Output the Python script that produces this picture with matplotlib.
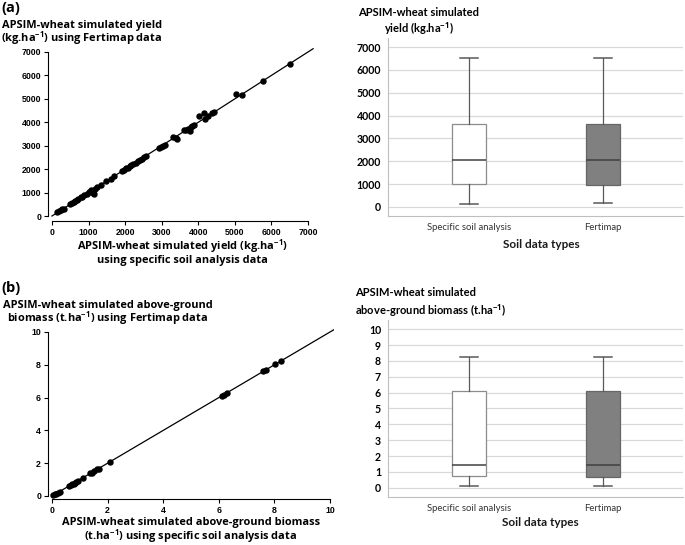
import matplotlib
matplotlib.use("Agg")
import matplotlib.pyplot as plt

W, H = 685, 545

# ---- data ---------------------------------------------------------------
# (a) yield, kg/ha : specific soil analysis (x) vs Fertimap (y)
yield_specific = [130, 200, 250, 280, 320, 500, 550, 600, 640, 680, 720, 780,
                  830, 880, 950, 1020, 1080, 1120, 1150, 1180, 1230, 1330,
                  1480, 1600, 1700, 1920, 1960, 2020, 2080, 2130, 2160, 2220,
                  2300, 2360, 2420, 2460, 2520, 2570, 2920, 2980, 3030, 3080,
                  3310, 3380, 3420, 3600, 3660, 3720, 3780, 3800, 3840, 3880,
                  4020, 4160, 4190, 4260, 4380, 4440, 5040, 5200, 5760, 6500]
yield_fertimap = [160, 210, 260, 280, 310, 510, 560, 600, 620, 690, 730, 790,
                  830, 880, 960, 1030, 1100, 1000, 960, 1150, 1220, 1320,
                  1480, 1600, 1700, 1920, 1980, 2030, 2060, 2120, 2190, 2200,
                  2270, 2340, 2400, 2450, 2510, 2560, 2920, 2960, 3000, 3010,
                  3370, 3330, 3300, 3660, 3680, 3700, 3640, 3780, 3860, 3900,
                  4250, 4380, 4150, 4250, 4380, 4430, 5190, 5180, 5760, 6500]

# (b) above-ground biomass, t/ha
biomass_specific = [0.05, 0.10, 0.15, 0.20, 0.28, 0.62, 0.68, 0.72, 0.78, 0.82,
                    0.88, 0.95, 1.12, 1.38, 1.45, 1.52, 1.60, 1.68, 2.10, 6.10,
                    6.18, 6.28, 7.60, 7.70, 8.02, 8.25]
biomass_fertimap = [0.08, 0.10, 0.15, 0.20, 0.25, 0.62, 0.66, 0.72, 0.75, 0.80,
                    0.85, 0.92, 1.12, 1.38, 1.43, 1.50, 1.62, 1.65, 2.10, 6.10,
                    6.15, 6.30, 7.60, 7.68, 8.02, 8.25]

# box plot summaries: [whisker low, Q1, median, Q3, whisker high]
soil_types = ["Specific soil analysis", "Fertimap"]
yield_box = {"Specific soil analysis": [130, 1010, 2070, 3610, 6520],
             "Fertimap": [160, 970, 2040, 3650, 6520]}
biomass_box = {"Specific soil analysis": [0.10, 0.72, 1.43, 6.11, 8.22],
               "Fertimap": [0.10, 0.70, 1.42, 6.10, 8.22]}
box_fill = ["white", "#808080"]

plt.rcParams["mathtext.fontset"] = "custom"
plt.rcParams["mathtext.rm"] = "Open Sans"
plt.rcParams["mathtext.bf"] = "Open Sans:bold"

SUP = r"$^{\mathbf{-1}}$"
BOLD = ["Open Sans", "DejaVu Sans"]
BOXF = ["Lato", "DejaVu Sans"]
LBL = 7.9


def ax_px(fig, left, top, right, bottom):
    return fig.add_axes([left / W, 1 - bottom / H,
                         (right - left) / W, (bottom - top) / H])


def text_px(fig, x, y, s, **kw):
    kw.setdefault("va", "center")
    fig.text(x / W, 1 - y / H, s, **kw)


def lines_px(fig, x, ys, lines, **kw):
    for y, s in zip(ys, lines):
        text_px(fig, x, y, s, va="baseline", **kw)


def scatter_panel(ax, xs, ys, xlim, ylim, top, step):
    ax.plot(xs, ys, "o", color="black", ms=3.6, zorder=3)
    ax.set_xlim(*xlim)
    ax.set_ylim(*ylim)
    end = top * 1.02
    ax.plot([0, end], [0, end], color="black", lw=0.9, zorder=2)
    ticks = list(range(0, top + 1, step))
    ax.set_xticks(ticks)
    ax.set_yticks(ticks)
    for sp in ["top", "right"]:
        ax.spines[sp].set_visible(False)
    ax.spines["left"].set_bounds(0, top)
    ax.spines["bottom"].set_bounds(0, top)
    ax.tick_params(direction="out", length=3, width=0.8, pad=2,
                   labelsize=6.3)
    for lab in ax.get_xticklabels() + ax.get_yticklabels():
        lab.set_fontfamily(["Liberation Sans"])
        lab.set_fontweight("bold")


def box_panel(ax, data, ylim, ticks):
    stats = []
    for name in soil_types:
        lo, q1, med, q3, hi = data[name]
        stats.append(dict(whislo=lo, q1=q1, med=med, q3=q3, whishi=hi,
                          fliers=[]))
    bp = ax.bxp(stats, positions=[1, 2], widths=0.25, capwidths=0.13,
                patch_artist=True, showfliers=False,
                boxprops=dict(edgecolor="#8c8c8c", lw=0.9),
                whiskerprops=dict(color="#595959", lw=0.9),
                capprops=dict(color="#595959", lw=1.1),
                medianprops=dict(color="#404040", lw=1.1))
    for patch, c in zip(bp["boxes"], box_fill):
        patch.set_facecolor(c)
    bp["boxes"][1].set_edgecolor("#666666")
    ax.set_xlim(0.396, 2.597)
    ax.set_ylim(*ylim)
    ax.set_yticks(ticks)
    ax.yaxis.grid(True, color="#d9d9d9", lw=0.9)
    ax.set_axisbelow(True)
    for sp in ["top", "right"]:
        ax.spines[sp].set_visible(False)
    for sp in ["left", "bottom"]:
        ax.spines[sp].set_color("#bfbfbf")
    ax.tick_params(length=0, pad=5)
    ax.set_xticklabels(soil_types, family=BOXF, fontsize=6.8, color="#333333")
    for lab in ax.get_yticklabels():
        lab.set_fontfamily(BOXF)
        lab.set_fontweight("bold")
        lab.set_fontsize(7.6)


fig = plt.figure(figsize=(W / 100, H / 100), dpi=100)

# ---- (a) scatter --------------------------------------------------------
ax1 = ax_px(fig, 48, 48, 316, 221)
scatter_panel(ax1, yield_specific, yield_fertimap, (-109, 7219), (-213, 7170),
              7000, 1000)

# ---- (b) scatter --------------------------------------------------------
ax3 = ax_px(fig, 48, 328, 334, 499)
scatter_panel(ax3, biomass_specific, biomass_fertimap, (-0.144, 10.14),
              (-0.183, 10.24), 10, 2)

# ---- box plots ----------------------------------------------------------
ax2 = ax_px(fig, 388, 38, 683, 216)
box_panel(ax2, yield_box, (-394, 7394), range(0, 7001, 1000))

ax4 = ax_px(fig, 388, 320, 683, 497)
box_panel(ax4, biomass_box, (-0.586, 10.58), range(0, 11))

# ---- text ---------------------------------------------------------------
text_px(fig, 1, 8, "(a)", family=BOLD, fontweight="bold", fontsize=10.5)
text_px(fig, 1, 288, "(b)", family=BOLD, fontweight="bold", fontsize=10.5)

sc = dict(family=BOLD, fontweight="bold", fontsize=LBL, ha="center")
lines_px(fig, 82, [28, 42], ["APSIM-wheat simulated yield",
                             f"(kg.ha{SUP}) using Fertimap data"], **sc)
lines_px(fig, 182, [250, 263], [f"APSIM-wheat simulated yield (kg.ha{SUP})",
                                "using specific soil analysis data"], **sc)
lines_px(fig, 108, [308, 322], ["APSIM-wheat simulated above-ground",
                                f"biomass (t.ha{SUP}) using Fertimap data"],
         **sc)
lines_px(fig, 191, [525, 540], ["APSIM-wheat simulated above-ground biomass",
                                f"(t.ha{SUP}) using specific soil analysis data"],
         **sc)

bx = dict(family=BOXF, fontweight="bold", fontsize=8)
lines_px(fig, 419, [16, 33], ["APSIM-wheat simulated",
                              f"yield (kg.ha{SUP})"], ha="center", **bx)
lines_px(fig, 355, [296, 315], ["APSIM-wheat simulated",
                                f"above-ground biomass (t.ha{SUP})"],
         ha="left", **bx)
text_px(fig, 541, 244, "Soil data types", family=BOXF, fontweight="bold",
        fontsize=8.5, ha="center", color="#1a1a1a")
text_px(fig, 540, 523, "Soil data types", family=BOXF, fontweight="bold",
        fontsize=8.5, ha="center", color="#1a1a1a")

fig.savefig("out.png", dpi=100, facecolor="white")
